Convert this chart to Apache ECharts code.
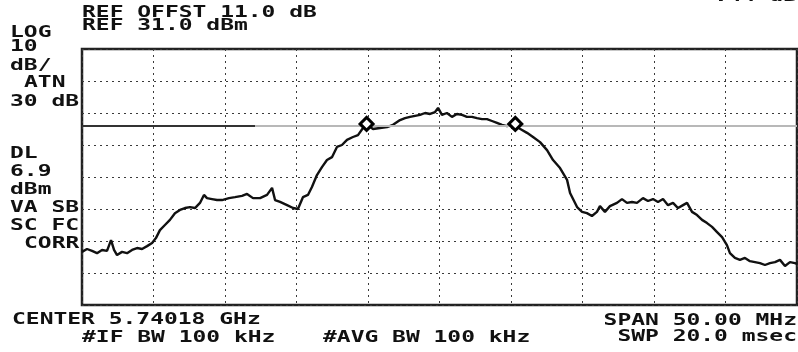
<!DOCTYPE html>
<html>
<head>
<meta charset="utf-8">
<title>Spectrum analyzer trace</title>
<script src="https://cdn.jsdelivr.net/npm/echarts@6/dist/echarts.min.js"></script>
<style>
  html, body { margin: 0; padding: 0; background: #fff; }
  #chart { width: 798px; height: 352px; }
</style>
</head>
<body>
<div id="chart"></div>
<script>
// analyzer settings
const refLevel = 31.0;     // dBm at top graticule line
const displayLine = 6.9;   // dBm

// trace: offset from centre (MHz) and level (dBm)
const traceFreq = [
  -25.00, -24.65, -24.30, -23.95, -23.60, -23.25, -22.97, -22.76, -22.55, -22.20,
  -21.85, -21.50, -21.15, -20.80, -20.45, -20.10, -19.83, -19.55, -19.20, -18.85,
  -18.50, -18.15, -17.80, -17.45, -17.10, -16.75, -16.47, -16.26, -15.91, -15.56,
  -15.21, -14.72, -14.30, -13.81, -13.46, -13.04, -12.55, -12.06, -11.71, -11.50,
  -11.15, -10.66, -10.24, -9.90, -9.55, -9.20, -8.92, -8.57, -8.22, -7.87,
  -7.52, -7.17, -6.82, -6.47, -6.05, -5.70, -5.35, -5.14, -4.65, -4.16,
  -3.67, -3.25, -2.76, -2.41, -2.06, -1.71, -1.36, -1.01, -0.66, -0.31,
  -0.10, 0.17, 0.52, 0.87, 1.22, 1.57, 1.92, 2.27, 2.62, 2.97,
  3.32, 3.67, 4.02, 4.37, 4.72, 5.07, 5.42, 5.77, 6.12, 6.54,
  7.03, 7.52, 7.94, 8.43, 8.92, 9.13, 9.62, 9.97, 10.31, 10.66,
  11.01, 11.22, 11.57, 11.92, 12.41, 12.76, 13.11, 13.46, 13.81, 14.23,
  14.58, 14.93, 15.28, 15.63, 15.98, 16.33, 16.68, 17.03, 17.31, 17.66,
  18.01, 18.36, 18.71, 19.06, 19.41, 19.76, 20.10, 20.31, 20.66, 21.01,
  21.36, 21.71, 22.06, 22.41, 22.76, 23.11, 23.46, 23.81, 24.16, 24.51,
  24.86, 25.00
];
const traceLevel = [
  -32.4, -31.5, -32.1, -32.8, -31.8, -32.1, -28.7, -31.8, -33.4, -32.4,
  -32.8, -31.8, -31.2, -31.5, -30.6, -29.6, -28.1, -25.6, -24.0, -22.4,
  -20.3, -19.3, -18.7, -18.4, -18.7, -17.1, -14.6, -15.6, -15.9, -16.2,
  -16.2, -15.6, -15.3, -14.9, -14.3, -15.6, -15.6, -14.6, -12.4, -16.2,
  -16.8, -17.8, -18.7, -19.0, -15.3, -14.6, -12.1, -8.4, -5.9, -3.7,
  -2.8, 0.4, 1.0, 2.6, 3.5, 4.1, 6.3, 7.6, 6.0, 6.3,
  6.6, 7.3, 8.8, 9.4, 9.8, 10.1, 10.4, 11.0, 10.7, 11.3,
  12.6, 10.4, 11.0, 9.8, 10.7, 10.4, 9.8, 9.8, 9.4, 9.1,
  9.1, 8.5, 7.9, 7.3, 6.9, 7.6, 6.6, 5.7, 4.8, 3.5,
  1.9, -0.6, -3.7, -6.2, -9.9, -14.0, -18.4, -19.9, -20.3, -21.2,
  -19.9, -18.1, -19.9, -18.1, -17.1, -15.9, -17.1, -16.8, -17.1, -15.6,
  -16.5, -15.9, -16.8, -15.9, -17.8, -17.1, -18.7, -17.8, -17.1, -19.9,
  -20.9, -22.4, -23.4, -24.6, -26.2, -27.8, -30.3, -32.8, -34.3, -34.9,
  -34.3, -35.3, -35.6, -35.9, -36.5, -35.9, -35.6, -34.9, -36.8, -35.6,
  -35.9, -36.2
];

// markers
const markerFreq = [-5.1, 5.3];
const markerLevel = [7.6, 7.6];

// levels are plotted relative to the reference level (0 = top line)
const rel = v => +(v - refLevel).toFixed(2);
const traceData = traceFreq.map((f, i) => [f, rel(traceLevel[i])]);
const markerData = markerFreq.map((f, i) => [f, rel(markerLevel[i])]);

const FONT = 'bold 15px "DejaVu Sans Mono", "Liberation Mono", monospace';
function label(text, x, y, align) {
  return {
    type: 'text',
    x: x,
    y: y,
    scaleX: 1.53,
    z: 10,
    style: {
      text: text,
      font: FONT,
      fill: '#111',
      align: align || 'left',
      textAlign: align || 'left',
      verticalAlign: 'middle',
      textVerticalAlign: 'middle'
    }
  };
}

const chart = echarts.init(document.getElementById('chart'), null, { renderer: 'canvas' });

const dotted = { color: '#3a3a3a', width: 1, type: [2, 4] };

chart.setOption({
  backgroundColor: '#ffffff',
  animation: false,
  grid: {
    left: 82, right: 1, top: 49, bottom: 47,
    show: true,
    borderColor: '#222',
    borderWidth: 2.5,
    backgroundColor: 'transparent'
  },
  xAxis: {
    type: 'value',
    min: -25, max: 25, interval: 5,
    axisLine: { show: false },
    axisTick: { show: false },
    axisLabel: { show: false },
    splitLine: { show: true, lineStyle: dotted }
  },
  yAxis: {
    type: 'value',
    min: -80, max: 0, interval: 10,
    axisLine: { show: false },
    axisTick: { show: false },
    axisLabel: { show: false },
    splitLine: { show: true, lineStyle: dotted }
  },
  series: [
    {
      name: 'trace',
      type: 'line',
      data: traceData,
      showSymbol: false,
      symbol: 'none',
      lineStyle: { color: '#111', width: 2.4 },
      z: 3,
      markLine: {
        silent: true,
        symbol: ['none', 'none'],
        label: { show: false },
        data: [
          [
            { coord: [-25, rel(displayLine)], lineStyle: { color: '#333', width: 2, type: 'solid' } },
            { coord: [-12.9, rel(displayLine)] }
          ],
          [
            { coord: [-12.9, rel(displayLine)], lineStyle: { color: '#b8b8b8', width: 2, type: 'solid' } },
            { coord: [25, rel(displayLine)] }
          ]
        ]
      }
    },
    {
      name: 'markers',
      type: 'scatter',
      data: markerData,
      symbol: 'diamond',
      symbolSize: 13,
      itemStyle: { color: '#ffffff', borderColor: '#000', borderWidth: 3, opacity: 1 },
      z: 5
    }
  ],
  graphic: [
    label('-.44 dB', 797, -3, 'right'),
    label('REF OFFST 11.0 dB', 82, 13),
    label('REF 31.0 dBm', 82, 26),
    label('LOG', 10, 33),
    label('10', 10, 47),
    label('dB/', 10, 66),
    label('ATN', 24, 83),
    label('30 dB', 10, 102),
    label('DL', 10, 154),
    label('6.9', 10, 172),
    label('dBm', 10, 190),
    label('VA SB', 10, 208),
    label('SC FC', 10, 226),
    label('CORR', 24, 244),
    label('CENTER 5.74018 GHz', 12, 320),
    label('#IF BW 100 kHz', 82, 338),
    label('#AVG BW 100 kHz', 323, 338),
    label('SPAN 50.00 MHz', 797, 321, 'right'),
    label('SWP 20.0 msec', 797, 337, 'right')
  ]
});
</script>
</body>
</html>
